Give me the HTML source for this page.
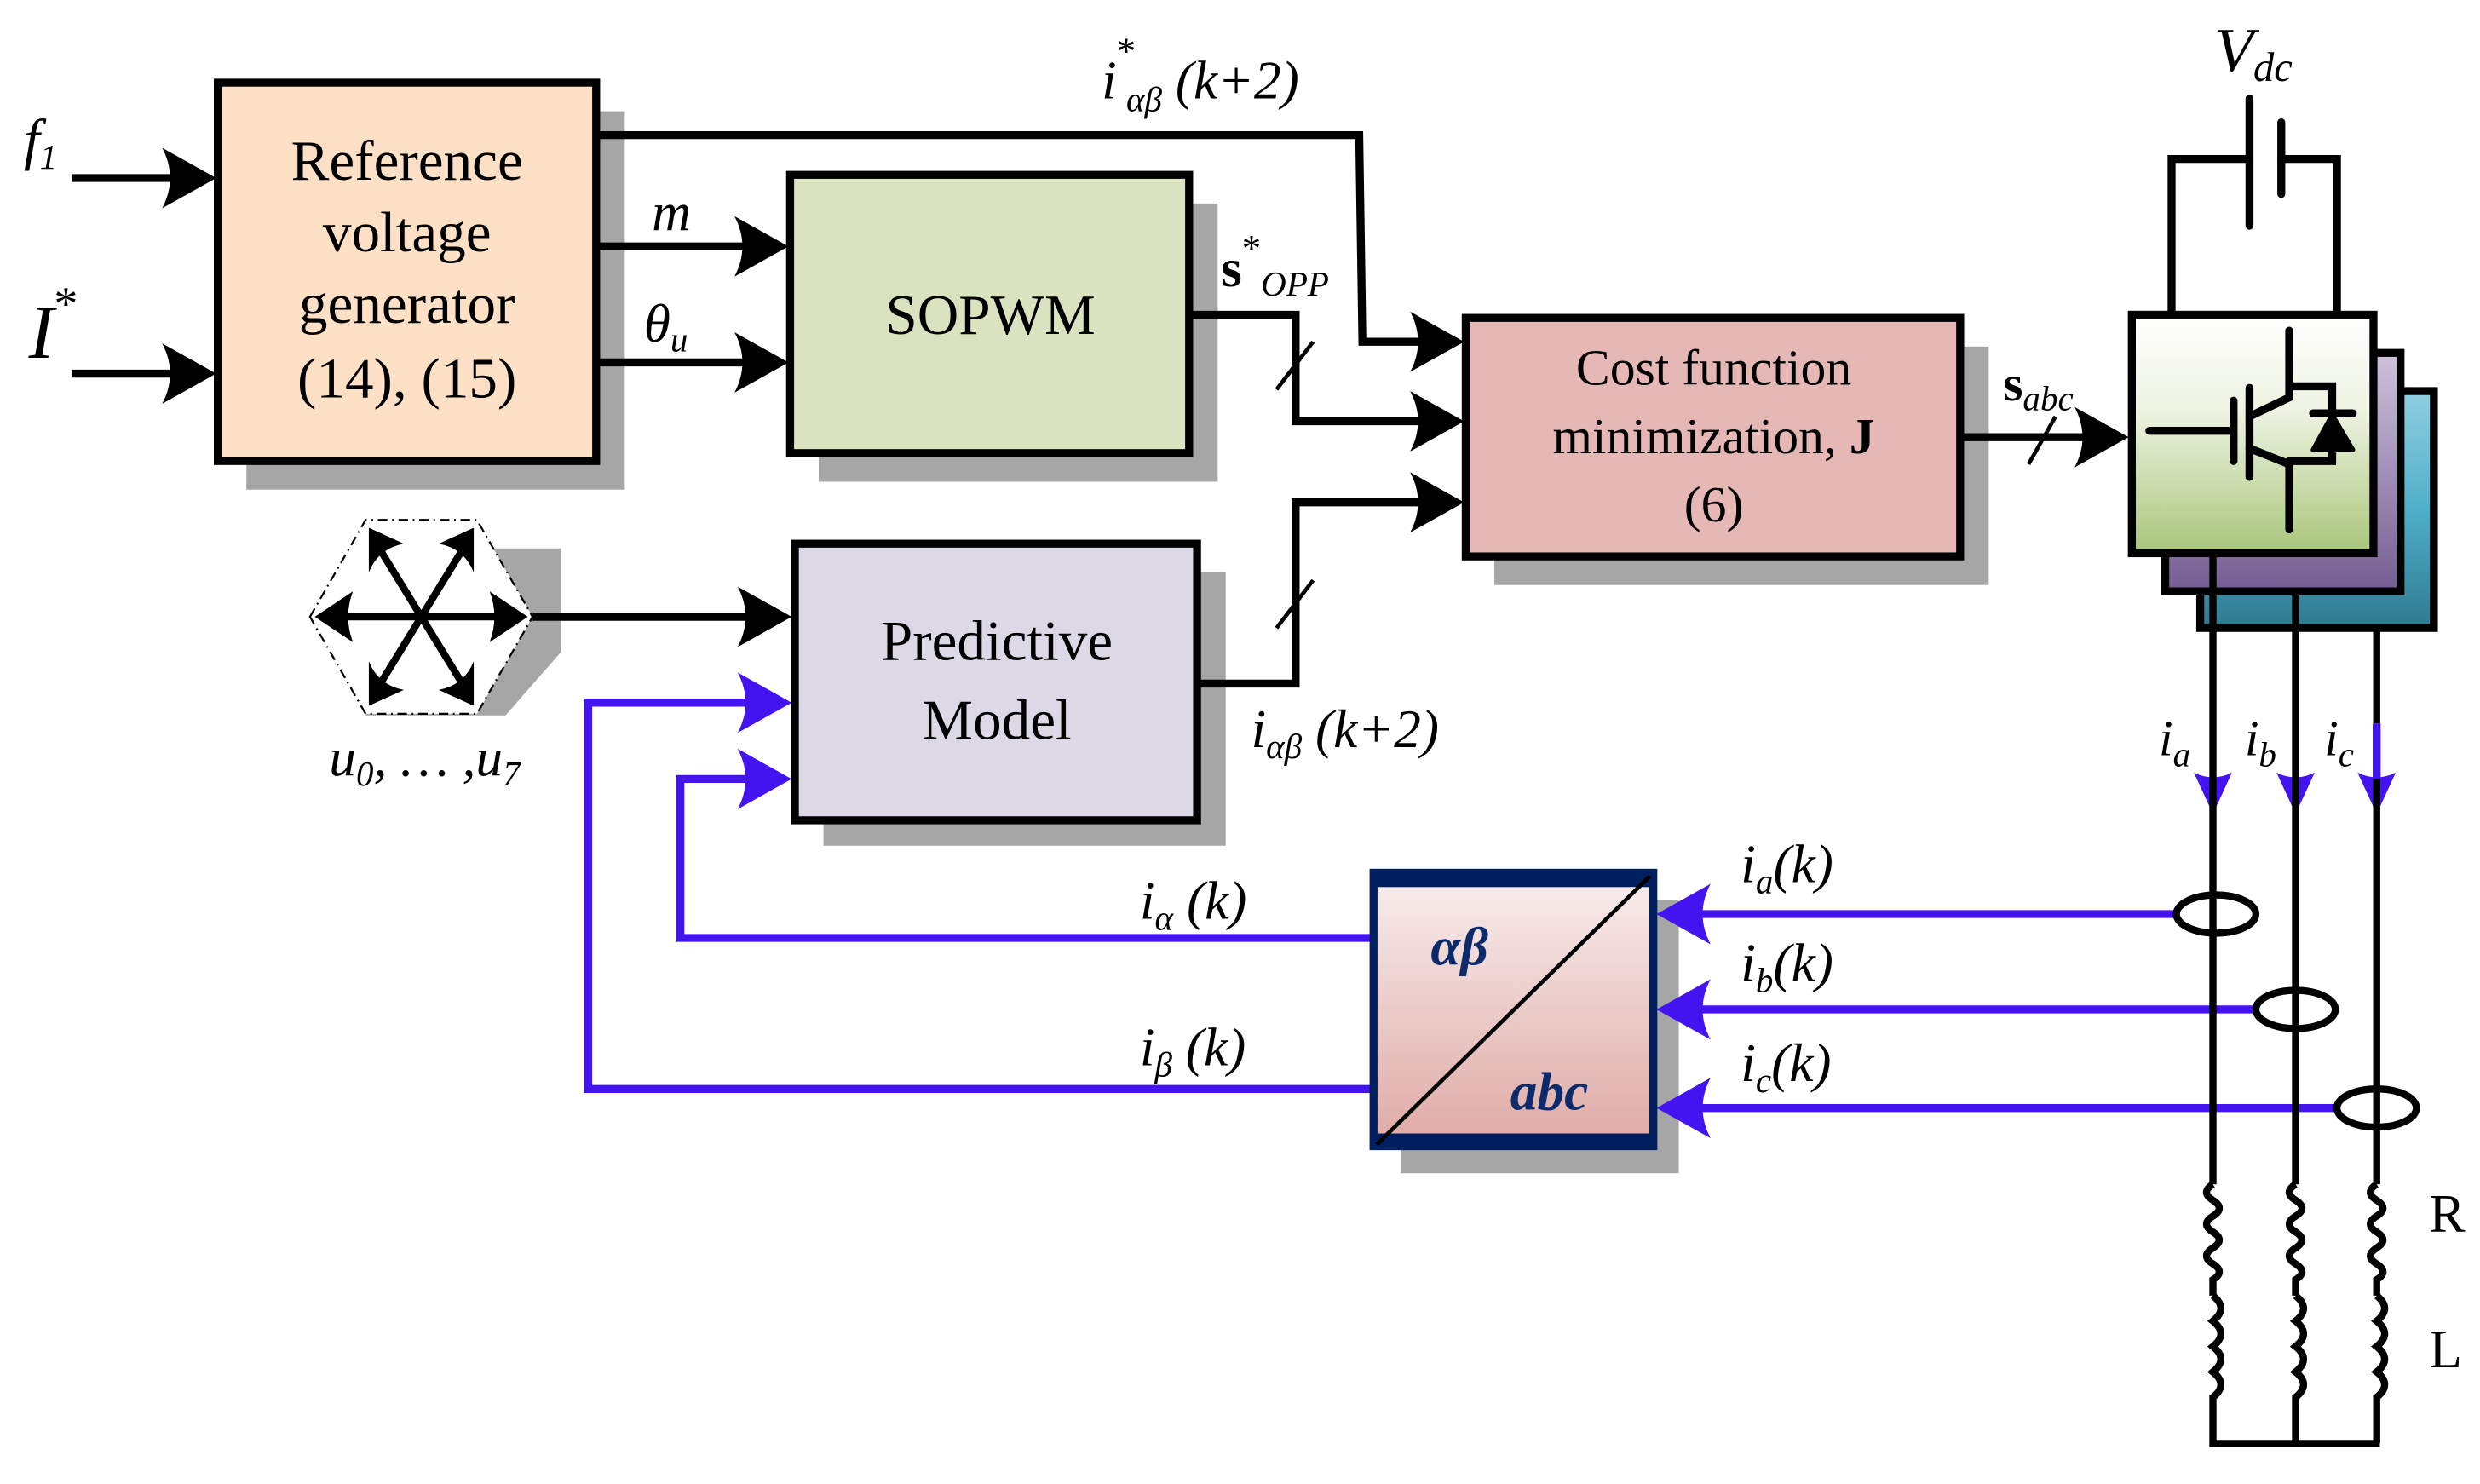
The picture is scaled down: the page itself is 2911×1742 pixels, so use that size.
<!DOCTYPE html>
<html><head><meta charset="utf-8"><style>
html,body{margin:0;padding:0;background:#fff}
svg{display:block}
text{font-family:"Liberation Serif",serif}
</style></head><body>
<svg width="2911" height="1742" viewBox="0 0 1560 933.5" preserveAspectRatio="none" xmlns="http://www.w3.org/2000/svg">
<defs>
<linearGradient id="inv" x1="0" y1="0" x2="0" y2="1"><stop offset="0" stop-color="#ffffff"/><stop offset="0.4" stop-color="#eef3e2"/><stop offset="1" stop-color="#a9c57a"/></linearGradient>
<linearGradient id="pur" x1="0" y1="0" x2="0" y2="1"><stop offset="0" stop-color="#cdc3dc"/><stop offset="1" stop-color="#745d91"/></linearGradient>
<linearGradient id="teal" x1="0" y1="0" x2="0" y2="1"><stop offset="0" stop-color="#8fcfe0"/><stop offset="0.5" stop-color="#4fafca"/><stop offset="1" stop-color="#2e7a90"/></linearGradient>
<linearGradient id="abc" x1="0" y1="0" x2="0" y2="1"><stop offset="0" stop-color="#f8eeee"/><stop offset="1" stop-color="#dfaaa5"/></linearGradient>
</defs>
<g id="shadows" fill="#a6a6a6">
<rect x="155" y="70" width="238" height="238"/>
<rect x="515" y="128" width="251" height="175"/>
<rect x="940" y="218" width="311" height="150"/>
<rect x="518" y="360" width="253" height="172"/>
<rect x="881" y="566" width="175" height="172"/>
<polygon points="283,345 353,345 353,410 318,450 230,450 230,430"/>
</g>
<g stroke="#000" stroke-width="5" stroke-linejoin="miter">
<rect x="137" y="52" width="238" height="238" fill="#fde0c5"/>
<rect x="497" y="110" width="251" height="175" fill="#d9e3bf"/>
<rect x="922" y="200" width="311" height="150" fill="#e6b8b5"/>
<rect x="500" y="342" width="253" height="174" fill="#ddd8e6"/>
</g>
<!-- hexagon -->
<polygon points="195,388 230,327 300,327 335,388 300,449 230,449" fill="#fff" stroke="#000" stroke-width="1.2" stroke-dasharray="6,3,1,3"/>
<g stroke="#000" stroke-width="4.5">
<line x1="212" y1="388" x2="318" y2="388"/>
<line x1="238" y1="344" x2="292" y2="432"/>
<line x1="292" y1="344" x2="238" y2="432"/>
</g>
<g fill="#000">
<path d="M198,388 L222,372 Q216,388 222,404 Z"/>
<path d="M332,388 L308,372 Q314,388 308,404 Z"/>
<path d="M232,332 L254,342 Q238,345 232,360 Z"/>
<path d="M298,332 L276,342 Q292,345 298,360 Z"/>
<path d="M232,444 L254,434 Q238,431 232,416 Z"/>
<path d="M298,444 L276,434 Q292,431 298,416 Z"/>
</g>
<!-- black wires -->
<g stroke="#000" stroke-width="5" fill="none">
<line x1="45" y1="112" x2="115" y2="112"/>
<line x1="45" y1="235" x2="115" y2="235"/>
<line x1="375" y1="155" x2="475" y2="155"/>
<line x1="375" y1="228" x2="475" y2="228"/>
<polyline points="375,85 855,85 857,215 900,215"/>
<polyline points="748,198 815,198 815,265 900,265"/>
<polyline points="753,430 815,430 815,316 900,316"/>
<line x1="335" y1="388" x2="475" y2="388"/>
<line x1="1233" y1="275" x2="1318" y2="275"/>
</g>
<g stroke="#000" stroke-width="2.5">
<line x1="803" y1="245" x2="826" y2="215"/>
<line x1="803" y1="395" x2="826" y2="365"/>
<line x1="1276" y1="292" x2="1293" y2="262"/>
</g>
<g fill="#000">
<path d="M136,112 L102,93 Q112,112 102,131 Z"/>
<path d="M136,235 L102,216 Q112,235 102,254 Z"/>
<path d="M496,155 L462,136 Q472,155 462,174 Z"/>
<path d="M496,228 L462,209 Q472,228 462,247 Z"/>
<path d="M498,388 L464,369 Q474,388 464,407 Z"/>
<path d="M921,215 L887,196 Q897,215 887,234 Z"/>
<path d="M921,265 L887,246 Q897,265 887,284 Z"/>
<path d="M921,316 L887,297 Q897,316 887,335 Z"/>
<path d="M1339,275 L1305,256 Q1315,275 1305,294 Z"/>
</g>
<!-- blue feedback -->
<g stroke="#4314f0" stroke-width="5" fill="none">
<polyline points="863,590 428,590 428,490 475,490"/>
<polyline points="863,685 370,685 370,442 475,442"/>
<line x1="1370" y1="575" x2="1065" y2="575"/>
<line x1="1418" y1="635" x2="1065" y2="635"/>
<line x1="1470" y1="697" x2="1065" y2="697"/>
<line x1="1495" y1="455" x2="1495" y2="490"/>
</g>
<g fill="#4314f0">
<path d="M498,490 L464,471 Q474,490 464,509 Z"/>
<path d="M498,442 L464,423 Q474,442 464,461 Z"/>
<path d="M1042,575 L1076,556 Q1066,575 1076,594 Z"/>
<path d="M1042,635 L1076,616 Q1066,635 1076,654 Z"/>
<path d="M1042,697 L1076,678 Q1066,697 1076,716 Z"/>
<path d="M1392,512 L1380,486 Q1392,492 1404,486 Z"/>
<path d="M1444,512 L1432,486 Q1444,492 1456,486 Z"/>
<path d="M1495,512 L1483,486 Q1495,492 1507,486 Z"/>
</g>
<!-- abc box -->
<rect x="864" y="549" width="176" height="172" fill="url(#abc)" stroke="#001f5f" stroke-width="5"/>
<rect x="864" y="549" width="176" height="9" fill="#001f5f"/>
<rect x="864" y="713" width="176" height="9" fill="#001f5f"/>
<line x1="866" y1="720" x2="1038" y2="551" stroke="#000" stroke-width="2.5"/>
<text x="900" y="607" font-size="34" font-style="italic" font-weight="bold" fill="#0d2a6a">αβ</text>
<text x="950" y="698" font-size="34" font-style="italic" font-weight="bold" fill="#0d2a6a">abc</text>
<!-- DC source -->
<g stroke="#000" stroke-width="5" fill="none" stroke-linecap="round">
<polyline points="1366,198 1366,100 1415,100"/>
<polyline points="1470,198 1470,100 1435,100"/>
<line x1="1415" y1="62" x2="1415" y2="142"/>
<line x1="1435" y1="77" x2="1435" y2="122"/>
</g>
<!-- inverter stack -->
<rect x="1384" y="246" width="147" height="149" fill="url(#teal)" stroke="#000" stroke-width="5"/>
<rect x="1362" y="222" width="148" height="150" fill="url(#pur)" stroke="#000" stroke-width="5"/>
<rect x="1341" y="198" width="152" height="150" fill="url(#inv)" stroke="#000" stroke-width="5"/>
<g stroke="#000" stroke-width="5" fill="none" stroke-linecap="round">
<line x1="1352" y1="271" x2="1402" y2="271"/>
<line x1="1405" y1="252" x2="1405" y2="290"/>
<line x1="1415" y1="244" x2="1415" y2="300"/>
<polyline points="1415,262 1440,250 1440,208"/>
<polyline points="1415,282 1440,292 1440,333"/>
<polyline points="1440,243 1467,243 1467,290 1440,290"/>
<line x1="1455" y1="260" x2="1480" y2="260"/>
</g>
<path d="M1467,261 L1455,283 L1480,283 Z" fill="#000" stroke="#000" stroke-width="3" stroke-linejoin="round"/>
<!-- phase lines -->
<g stroke="#000" stroke-width="4.5" fill="none">
<line x1="1392" y1="348" x2="1392" y2="745"/>
<line x1="1444" y1="372" x2="1444" y2="745"/>
<line x1="1495" y1="395" x2="1495" y2="455"/>
<line x1="1495" y1="490" x2="1495" y2="745"/>
<path d="M1392,745 q-8,5 0,10 q8,5 0,10 q-8,5 0,10 q8,5 0,10 q-8,5 0,10 q8,5 0,10 L1392,815"/>
<path d="M1444,745 q-8,5 0,10 q8,5 0,10 q-8,5 0,10 q8,5 0,10 q-8,5 0,10 q8,5 0,10 L1444,815"/>
<path d="M1495,745 q-8,5 0,10 q8,5 0,10 q-8,5 0,10 q8,5 0,10 q-8,5 0,10 q8,5 0,10 L1495,815"/>
<path d="M1392,815 q10,8 0,16 q10,8 0,16 q10,8 0,16 q10,8 0,16 L1392,908 L1497,908"/>
<path d="M1444,815 q10,8 0,16 q10,8 0,16 q10,8 0,16 q10,8 0,16 L1444,908"/>
<path d="M1495,815 q10,8 0,16 q10,8 0,16 q10,8 0,16 q10,8 0,16 L1495,908"/>
<ellipse cx="1394" cy="575" rx="25" ry="12"/>
<ellipse cx="1444" cy="635" rx="25" ry="12"/>
<ellipse cx="1495" cy="697" rx="25" ry="12"/>
</g>
<!-- labels -->
<g fill="#000" font-size="36">
<text x="256" y="113" text-anchor="middle">Reference</text>
<text x="256" y="158" text-anchor="middle">voltage</text>
<text x="256" y="203" text-anchor="middle">generator</text>
<text x="256" y="250" text-anchor="middle">(14), (15)</text>
<text x="623" y="210" text-anchor="middle">SOPWM</text>
<text x="627" y="415" text-anchor="middle">Predictive</text>
<text x="627" y="465" text-anchor="middle">Model</text>
<text x="1078" y="242" text-anchor="middle" font-size="32">Cost function</text>
<text x="1078" y="285" text-anchor="middle" font-size="32">minimization, <tspan font-weight="bold">J</tspan></text>
<text x="1078" y="328" text-anchor="middle" font-size="32">(6)</text>
<text x="1528" y="775" font-size="34">R</text>
<text x="1528" y="860" font-size="34">L</text>
</g>
<g fill="#000" font-style="italic">
<text x="15" y="100" font-size="36">f<tspan font-size="22" dy="6">1</tspan></text>
<text x="18" y="225" font-size="48">I<tspan font-size="30" dy="-24" font-style="normal">*</tspan></text>
<text x="410" y="145" font-size="34">m</text>
<text x="405" y="215" font-size="34">θ<tspan font-size="22" dy="6">u</tspan></text>
<text x="693" y="62" font-size="34">i<tspan font-size="24" dy="-22" font-style="normal">*</tspan><tspan font-size="22" dy="30" dx="-6">αβ</tspan><tspan font-size="34" dy="-8"> (k+2)</tspan></text>
<text x="768" y="180" font-size="34" font-weight="bold" font-style="normal">s<tspan font-size="24" dy="-16" font-weight="normal">*</tspan><tspan font-size="22" dy="22" font-style="italic" font-weight="normal">OPP</tspan></text>
<text x="1260" y="252" font-size="32" font-weight="bold" font-style="normal">s<tspan font-size="22" dy="6" font-weight="normal" font-style="italic">abc</tspan></text>
<text x="787" y="470" font-size="34">i<tspan font-size="22" dy="7">αβ</tspan><tspan dy="-7"> (k+2)</tspan></text>
<text x="207" y="488" font-size="34">u<tspan font-size="22" dy="6">0</tspan><tspan dy="-6">, … ,u</tspan><tspan font-size="22" dy="6">7</tspan></text>
<text x="717" y="578" font-size="34">i<tspan font-size="22" dy="7">α</tspan><tspan dy="-7"> (k)</tspan></text>
<text x="717" y="670" font-size="34">i<tspan font-size="22" dy="7">β</tspan><tspan dy="-7"> (k)</tspan></text>
<text x="1095" y="555" font-size="34">i<tspan font-size="22" dy="7">a</tspan><tspan dy="-7">(k)</tspan></text>
<text x="1095" y="617" font-size="34">i<tspan font-size="22" dy="7">b</tspan><tspan dy="-7">(k)</tspan></text>
<text x="1095" y="680" font-size="34">i<tspan font-size="22" dy="7">c</tspan><tspan dy="-7">(k)</tspan></text>
<text x="1358" y="475" font-size="32">i<tspan font-size="22" dy="7">a</tspan></text>
<text x="1412" y="475" font-size="32">i<tspan font-size="22" dy="7">b</tspan></text>
<text x="1462" y="475" font-size="32">i<tspan font-size="22" dy="7">c</tspan></text>
<text x="1393" y="45" font-size="40">V<tspan font-size="26" dy="6">dc</tspan></text>
</g>
</svg>
</body></html>
